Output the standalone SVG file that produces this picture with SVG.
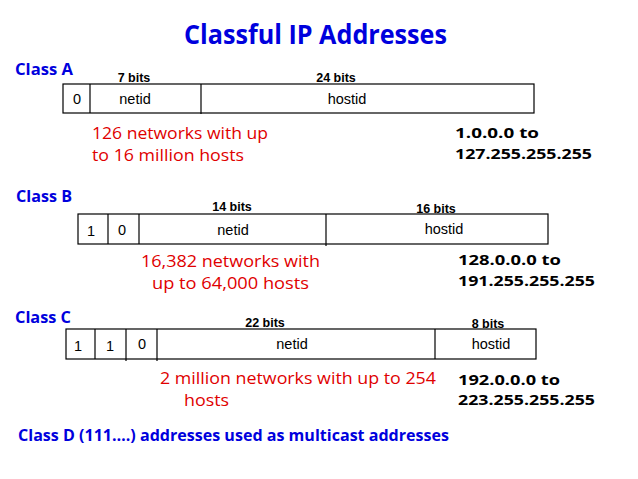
<svg xmlns="http://www.w3.org/2000/svg" width="638" height="479" viewBox="0 0 638 479">
<style>
.title{font-family:"Open Sans","DejaVu Sans",sans-serif;font-weight:bold;font-size:26px;fill:#0000dd}
.cls{font-family:"Open Sans","DejaVu Sans",sans-serif;font-weight:bold;font-size:15.5px;fill:#0000dd}
.red{font-family:"Open Sans","DejaVu Sans",sans-serif;font-size:17px;fill:#e00000}
.addr{font-family:"Open Sans","DejaVu Sans",sans-serif;font-weight:bold;font-size:15px;fill:#000}
.box{fill:#fff;stroke:#000;stroke-width:1.2}
.div{stroke:#000;stroke-width:1.2}
.in{font-family:"Liberation Sans",Arial,sans-serif;font-size:14.5px;fill:#000;text-anchor:middle}
.bits{font-family:"Liberation Sans",Arial,sans-serif;font-size:12.5px;font-weight:bold;fill:#000;text-anchor:middle}
</style>
<rect width="638" height="479" fill="#fff"/>
<text class="title" x="184" y="44" textLength="263" lengthAdjust="spacingAndGlyphs">Classful IP Addresses</text>

<g id="classA">
<text class="cls" x="15" y="75" textLength="58" lengthAdjust="spacingAndGlyphs">Class A</text>
<text class="bits" x="134" y="82">7 bits</text>
<text class="bits" x="336" y="82">24 bits</text>
<rect class="box" x="63" y="84" width="471" height="29"/>
<line class="div" x1="90" y1="84" x2="90" y2="113"/>
<line class="div" x1="201" y1="84" x2="201" y2="114"/>
<text class="in" x="77" y="104">0</text>
<text class="in" x="135" y="104">netid</text>
<text class="in" x="347" y="104">hostid</text>
<text class="red" x="92" y="139" textLength="176" lengthAdjust="spacingAndGlyphs">126 networks with up</text>
<text class="red" x="92" y="161" textLength="152" lengthAdjust="spacingAndGlyphs">to 16 million hosts</text>
<text class="addr" x="455" y="138" textLength="84" lengthAdjust="spacingAndGlyphs">1.0.0.0 to</text>
<text class="addr" x="455" y="159" textLength="137" lengthAdjust="spacingAndGlyphs">127.255.255.255</text>
</g>

<g id="classB">
<text class="cls" x="16" y="202" textLength="56" lengthAdjust="spacingAndGlyphs">Class B</text>
<text class="bits" x="232" y="211">14 bits</text>
<text class="bits" x="436" y="213">16 bits</text>
<rect class="box" x="78" y="214" width="470" height="30"/>
<line class="div" x1="108" y1="214" x2="108" y2="244"/>
<line class="div" x1="139" y1="214" x2="139" y2="244"/>
<line class="div" x1="326" y1="214" x2="326" y2="246"/>
<text class="in" x="91" y="236">1</text>
<text class="in" x="122" y="235">0</text>
<text class="in" x="233" y="235">netid</text>
<text class="in" x="444" y="234">hostid</text>
<text class="red" x="141" y="267" textLength="179" lengthAdjust="spacingAndGlyphs">16,382 networks with</text>
<text class="red" x="152" y="289" textLength="157" lengthAdjust="spacingAndGlyphs">up to 64,000 hosts</text>
<text class="addr" x="458" y="265" textLength="103" lengthAdjust="spacingAndGlyphs">128.0.0.0 to</text>
<text class="addr" x="458" y="286" textLength="137" lengthAdjust="spacingAndGlyphs">191.255.255.255</text>
</g>

<g id="classC">
<text class="cls" x="15" y="323" textLength="56" lengthAdjust="spacingAndGlyphs">Class C</text>
<text class="bits" x="265" y="327">22 bits</text>
<text class="bits" x="488" y="328">8 bits</text>
<rect class="box" x="66" y="329" width="470" height="30"/>
<line class="div" x1="95" y1="329" x2="95" y2="359"/>
<line class="div" x1="126" y1="329" x2="126" y2="361"/>
<line class="div" x1="157" y1="329" x2="157" y2="361"/>
<line class="div" x1="435" y1="329" x2="435" y2="359"/>
<text class="in" x="78" y="351">1</text>
<text class="in" x="110" y="351">1</text>
<text class="in" x="142" y="349">0</text>
<text class="in" x="292" y="349">netid</text>
<text class="in" x="491" y="349">hostid</text>
<text class="red" x="160" y="384" textLength="276" lengthAdjust="spacingAndGlyphs">2 million networks with up to 254</text>
<text class="red" x="184" y="406" textLength="45" lengthAdjust="spacingAndGlyphs">hosts</text>
<text class="addr" x="458" y="385" textLength="102" lengthAdjust="spacingAndGlyphs">192.0.0.0 to</text>
<text class="addr" x="458" y="405" textLength="137" lengthAdjust="spacingAndGlyphs">223.255.255.255</text>
</g>

<g id="classD">
<text class="cls" x="18" y="441" textLength="431" lengthAdjust="spacingAndGlyphs">Class D (111….) addresses used as multicast addresses</text>
</g>
</svg>
